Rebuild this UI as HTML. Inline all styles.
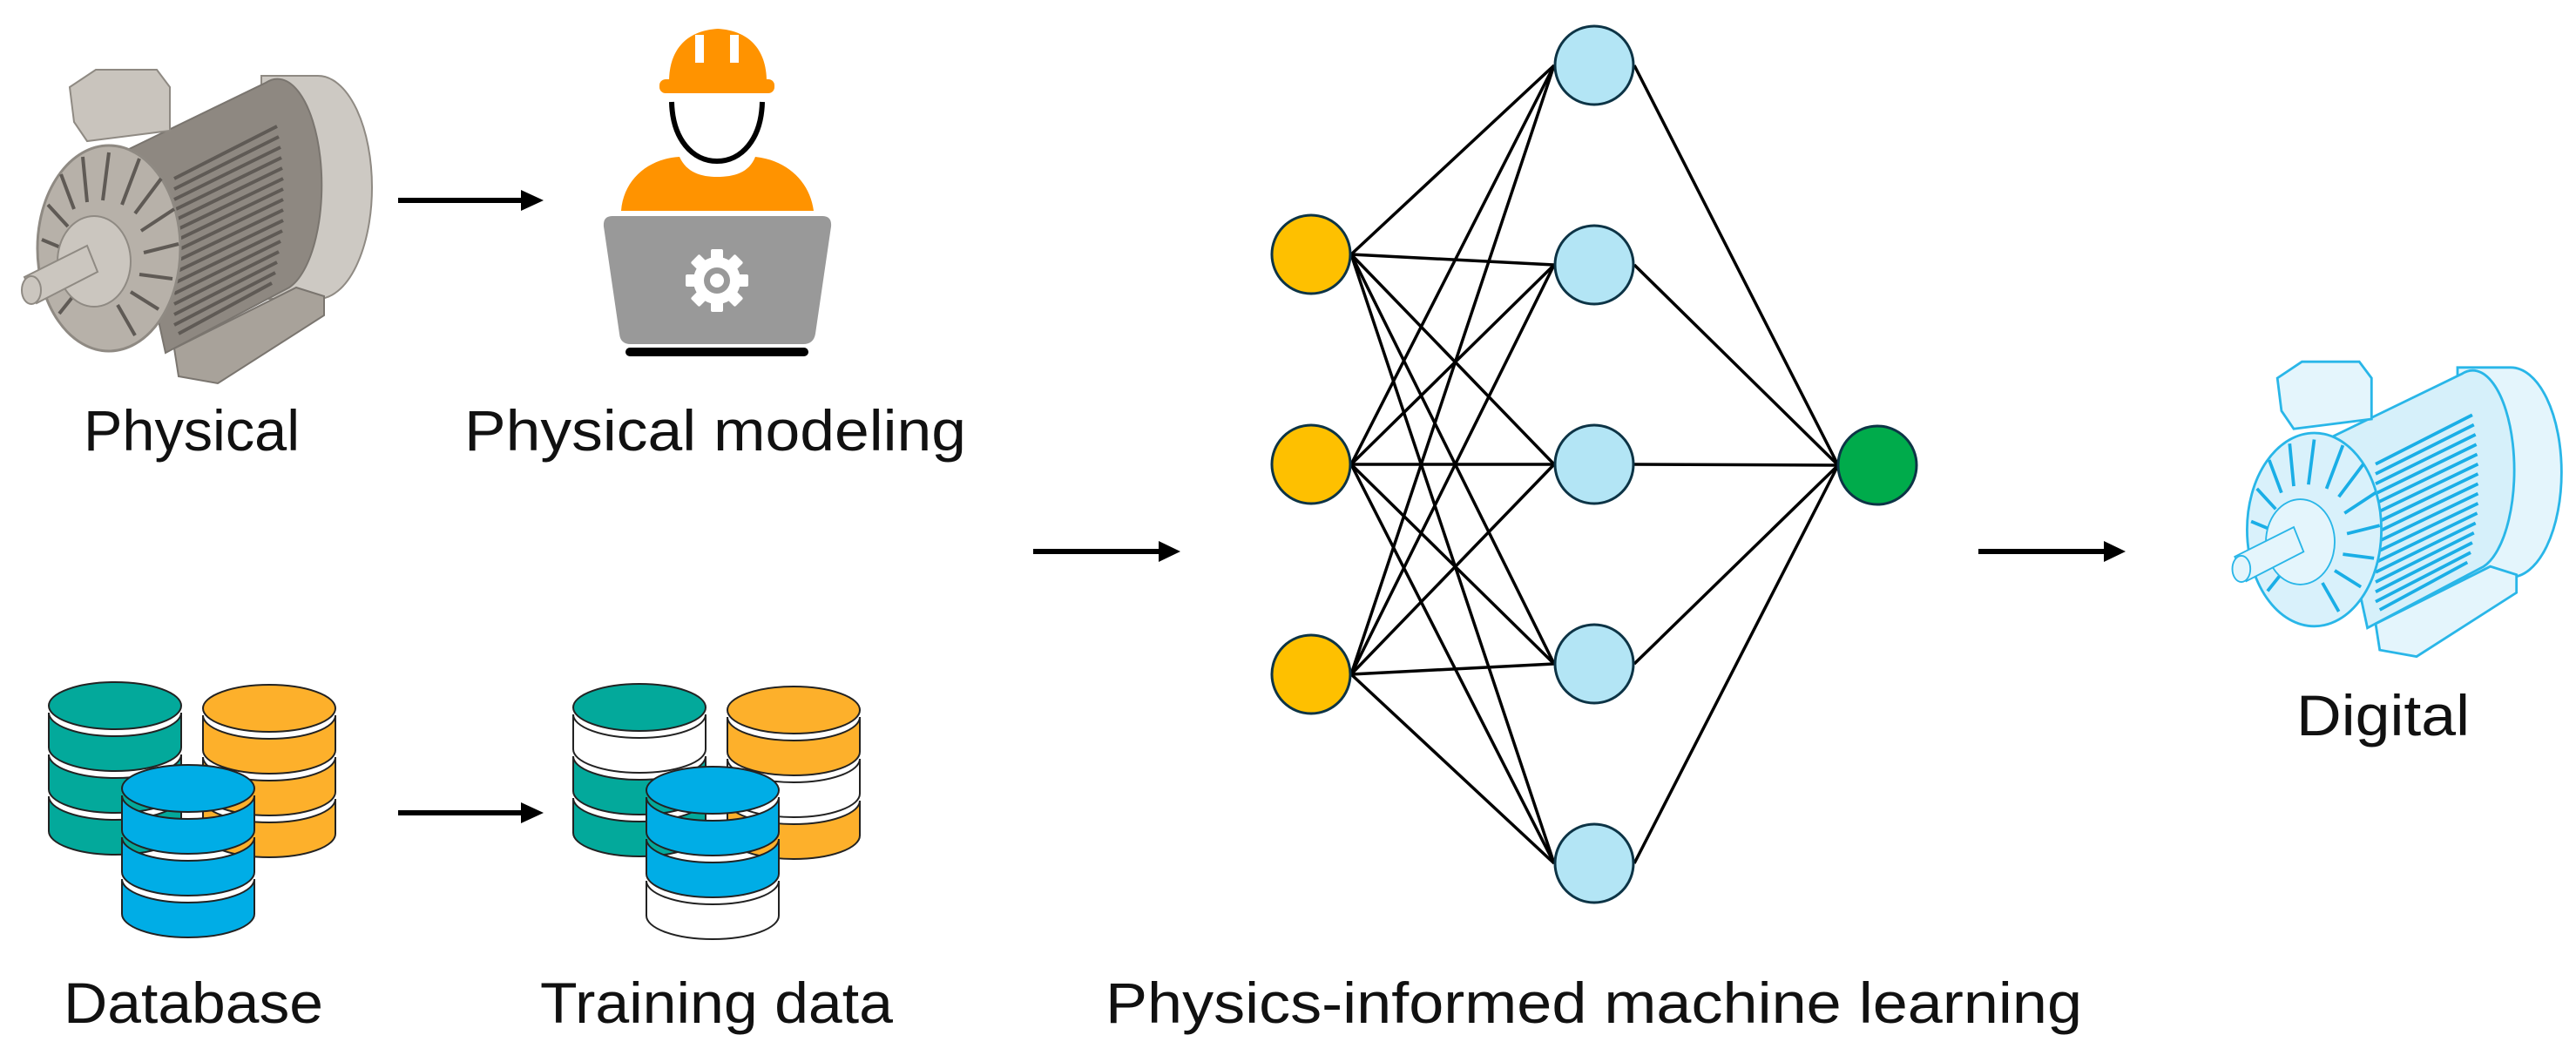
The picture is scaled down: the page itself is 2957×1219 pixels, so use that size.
<!DOCTYPE html>
<html><head><meta charset="utf-8"><style>
html,body{margin:0;padding:0;background:#fff;}
svg{display:block;}
text{font-family:"Liberation Sans",sans-serif;fill:#111;font-size:66px;}
</style></head><body>
<svg width="2957" height="1219" viewBox="0 0 2957 1219" xmlns="http://www.w3.org/2000/svg">
<defs>
<g id="motor">
  <path d="M300,87 L365,87 A62,128 0 0 1 365,343 L300,343 Z" style="fill:var(--m1);stroke:var(--s1);stroke-width:var(--sw)"/>
  <path d="M140,175 L305,95 A50,120 0 0 1 332,330 L190,405 Z" style="fill:var(--m2);stroke:var(--s2);stroke-width:var(--sw)"/>
  <path d="M200,205 L318,145 M200,217 L320,157 M200,229 L322,169 M200,241 L323,181 M200,253 L324,193 M200,265 L325,205 M200,277 L325,217 M200,289 L325,229 M200,301 L325,241 M200,313 L325,253 M200,325 L324,265 M200,337 L322,277 M200,349 L320,289 M200,361 L318,301 M200,373 L316,313 M205,383 L312,325" style="fill:none;stroke:var(--fin);stroke-width:4"/>
  <path d="M80,100 L110,80 L180,80 L195,100 L195,150 L100,162 L85,140 Z" style="fill:var(--m3);stroke:var(--s1);stroke-width:var(--sw)"/>
  <path d="M200,400 L340,330 L372,340 L372,362 L250,440 L205,432 Z" style="fill:var(--m4);stroke:var(--s2);stroke-width:var(--sw)"/>
  <ellipse cx="125" cy="285" rx="82" ry="118" style="fill:var(--m5);stroke:var(--s1);stroke-width:3"/>
  <path d="M125,175 L118,230 M160,182 L140,235 M185,205 L155,245 M200,240 L162,265 M205,280 L165,290 M198,320 L160,315 M182,355 L150,335 M155,385 L135,350 M95,180 L100,232 M70,200 L85,240 M55,235 L78,260 M48,275 L72,285 M52,320 L72,310 M68,360 L88,335" style="fill:none;stroke:var(--fin);stroke-width:4"/>
  <ellipse cx="108" cy="300" rx="42" ry="52" style="fill:var(--m6);stroke:var(--s1);stroke-width:2"/>
  <path d="M28,318 L100,282 L112,312 L42,348 Z" style="fill:var(--m6);stroke:var(--s1);stroke-width:2"/>
  <ellipse cx="36" cy="333" rx="11" ry="16" style="fill:var(--m6);stroke:var(--s1);stroke-width:2"/>
</g>
</defs>

<g style="--m1:#cdc9c3;--m2:#8e8881;--m3:#c9c4bd;--m4:#a8a29a;--m5:#b7b1a9;--m6:#cbc6bf;--s1:#8f8a83;--s2:#7a756f;--sw:2;--fin:#5f5a55"><use href="#motor"/></g>
<g transform="translate(2539,340) scale(0.94)" style="--m1:#e4f5fc;--m2:#d6f0fa;--m3:#e4f5fc;--m4:#e4f5fc;--m5:#d9f1fb;--m6:#e4f5fc;--s1:#29b6e8;--s2:#29b6e8;--sw:3;--fin:#1aaee6"><use href="#motor"/></g>

<!-- arrows -->
<g stroke="#000" stroke-width="6">
  <line x1="457" y1="230" x2="602" y2="230"/>
  <line x1="457" y1="933" x2="602" y2="933"/>
  <line x1="1186" y1="633" x2="1332" y2="633"/>
  <line x1="2271" y1="633" x2="2417" y2="633"/>
</g>
<g fill="#000">
  <polygon points="598,218 624,230 598,242"/>
  <polygon points="598,921 624,933 598,945"/>
  <polygon points="1330,621 1355,633 1330,645"/>
  <polygon points="2415,621 2440,633 2415,645"/>
</g>

<!-- worker -->
<g>
  <path d="M768,94 C768,55 790,35 824,33 C858,35 880,55 880,94 Z" fill="#ff9300"/>
  <rect x="757" y="91" width="132" height="16" rx="7" fill="#ff9300"/>
  <rect x="798" y="40" width="10" height="32" fill="#fff"/>
  <rect x="838" y="40" width="10" height="32" fill="#fff"/>
  <path d="M771,117 C772,160 795,185 823,185 C851,185 874,160 875,117" fill="none" stroke="#000" stroke-width="6"/>
  <path d="M713,242 C716,205 745,182 780,180 C788,198 805,203 823,203 C843,203 860,198 867,180 C905,184 930,210 934,242 Z" fill="#ff9300"/>
  <path d="M703,248 L944,248 Q955,248 954,260 L936,383 Q934,395 922,395 L724,395 Q712,395 711,383 L693,260 Q692,248 703,248 Z" fill="#999"/>
  <g fill="#fff" transform="translate(823,322)">
    <circle r="27"/>
    <rect x="-7" y="-36" width="14" height="72" rx="2"/>
    <rect x="-7" y="-36" width="14" height="72" rx="2" transform="rotate(45)"/>
    <rect x="-7" y="-36" width="14" height="72" rx="2" transform="rotate(90)"/>
    <rect x="-7" y="-36" width="14" height="72" rx="2" transform="rotate(135)"/>
    <circle r="15" fill="#999"/>
    <circle r="8" fill="#fff"/>
  </g>
  <rect x="718" y="399" width="210" height="10" rx="5" fill="#000"/>
</g>

<!-- databases -->
<g stroke="#222" stroke-width="2">
  <path d="M56,818 A76,27 0 0 0 208,818 V858 A76,27 0 0 1 56,858 Z" fill="#03a99b"/>
  <path d="M56,866 A76,27 0 0 0 208,866 V906 A76,27 0 0 1 56,906 Z" fill="#03a99b"/>
  <path d="M56,914 A76,27 0 0 0 208,914 V954 A76,27 0 0 1 56,954 Z" fill="#03a99b"/>
  <ellipse cx="132" cy="810" rx="76" ry="27" fill="#03a99b"/>
  <path d="M233,821 A76,27 0 0 0 385,821 V861 A76,27 0 0 1 233,861 Z" fill="#fdb02b"/>
  <path d="M233,869 A76,27 0 0 0 385,869 V909 A76,27 0 0 1 233,909 Z" fill="#fdb02b"/>
  <path d="M233,917 A76,27 0 0 0 385,917 V957 A76,27 0 0 1 233,957 Z" fill="#fdb02b"/>
  <ellipse cx="309" cy="813" rx="76" ry="27" fill="#fdb02b"/>
  <path d="M140,913 A76,27 0 0 0 292,913 V953 A76,27 0 0 1 140,953 Z" fill="#00ade6"/>
  <path d="M140,961 A76,27 0 0 0 292,961 V1001 A76,27 0 0 1 140,1001 Z" fill="#00ade6"/>
  <path d="M140,1009 A76,27 0 0 0 292,1009 V1049 A76,27 0 0 1 140,1049 Z" fill="#00ade6"/>
  <ellipse cx="216" cy="905" rx="76" ry="27" fill="#00ade6"/>
  <g transform="translate(602,2)">
  <path d="M56,818 A76,27 0 0 0 208,818 V858 A76,27 0 0 1 56,858 Z" fill="#fff"/>
  <path d="M56,866 A76,27 0 0 0 208,866 V906 A76,27 0 0 1 56,906 Z" fill="#03a99b"/>
  <path d="M56,914 A76,27 0 0 0 208,914 V954 A76,27 0 0 1 56,954 Z" fill="#03a99b"/>
  <ellipse cx="132" cy="810" rx="76" ry="27" fill="#03a99b"/>
  <path d="M233,821 A76,27 0 0 0 385,821 V861 A76,27 0 0 1 233,861 Z" fill="#fdb02b"/>
  <path d="M233,869 A76,27 0 0 0 385,869 V909 A76,27 0 0 1 233,909 Z" fill="#fff"/>
  <path d="M233,917 A76,27 0 0 0 385,917 V957 A76,27 0 0 1 233,957 Z" fill="#fdb02b"/>
  <ellipse cx="309" cy="813" rx="76" ry="27" fill="#fdb02b"/>
  <path d="M140,913 A76,27 0 0 0 292,913 V953 A76,27 0 0 1 140,953 Z" fill="#00ade6"/>
  <path d="M140,961 A76,27 0 0 0 292,961 V1001 A76,27 0 0 1 140,1001 Z" fill="#00ade6"/>
  <path d="M140,1009 A76,27 0 0 0 292,1009 V1049 A76,27 0 0 1 140,1049 Z" fill="#fff"/>
  <ellipse cx="216" cy="905" rx="76" ry="27" fill="#00ade6"/>
  </g>
</g>

<!-- neural net edges -->
<g stroke="#000" stroke-width="3.5">
  <line x1="1551" y1="292" x2="1784" y2="75"/><line x1="1551" y1="292" x2="1784" y2="304"/><line x1="1551" y1="292" x2="1784" y2="533"/><line x1="1551" y1="292" x2="1784" y2="762"/><line x1="1551" y1="292" x2="1784" y2="991"/>
  <line x1="1551" y1="533" x2="1784" y2="75"/><line x1="1551" y1="533" x2="1784" y2="304"/><line x1="1551" y1="533" x2="1784" y2="533"/><line x1="1551" y1="533" x2="1784" y2="762"/><line x1="1551" y1="533" x2="1784" y2="991"/>
  <line x1="1551" y1="774" x2="1784" y2="75"/><line x1="1551" y1="774" x2="1784" y2="304"/><line x1="1551" y1="774" x2="1784" y2="533"/><line x1="1551" y1="774" x2="1784" y2="762"/><line x1="1551" y1="774" x2="1784" y2="991"/>
  <line x1="1876" y1="75" x2="2110" y2="534"/><line x1="1876" y1="304" x2="2110" y2="534"/><line x1="1876" y1="533" x2="2110" y2="534"/><line x1="1876" y1="762" x2="2110" y2="534"/><line x1="1876" y1="991" x2="2110" y2="534"/>
</g>
<g stroke="#0d3446" stroke-width="3">
  <circle cx="1505" cy="292" r="45" fill="#fec000"/>
  <circle cx="1505" cy="533" r="45" fill="#fec000"/>
  <circle cx="1505" cy="774" r="45" fill="#fec000"/>
  <circle cx="1830" cy="75" r="45" fill="#b3e5f5"/>
  <circle cx="1830" cy="304" r="45" fill="#b3e5f5"/>
  <circle cx="1830" cy="533" r="45" fill="#b3e5f5"/>
  <circle cx="1830" cy="762" r="45" fill="#b3e5f5"/>
  <circle cx="1830" cy="991" r="45" fill="#b3e5f5"/>
  <circle cx="2155" cy="534" r="45" fill="#00ab4b"/>
</g>

<!-- labels -->
<text x="96" y="517" textLength="248" lengthAdjust="spacingAndGlyphs">Physical</text>
<text x="533" y="517" textLength="576" lengthAdjust="spacingAndGlyphs">Physical modeling</text>
<text x="73" y="1174" textLength="298" lengthAdjust="spacingAndGlyphs">Database</text>
<text x="620" y="1174" textLength="405" lengthAdjust="spacingAndGlyphs">Training data</text>
<text x="1269" y="1174" textLength="1121" lengthAdjust="spacingAndGlyphs">Physics-informed machine learning</text>
<text x="2636" y="844" textLength="199" lengthAdjust="spacingAndGlyphs">Digital</text>
</svg>
</body></html>
